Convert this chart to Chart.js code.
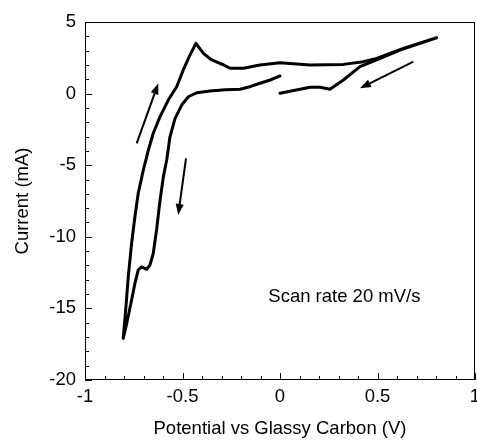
<!DOCTYPE html>
<html>
<head>
<meta charset="utf-8">
<script src="https://cdn.jsdelivr.net/npm/chart.js@4.4.0/dist/chart.umd.min.js"></script>
<style>
  html, body { margin: 0; padding: 0; background: #fff; }
</style>
</head>
<body>
<canvas id="cv" width="477" height="440"></canvas>
<script>
var potential = [0.0, -0.05, -0.103, -0.15, -0.205, -0.28, -0.359, -0.427, -0.47, -0.504, -0.538, -0.564,
  -0.581, -0.598, -0.615, -0.633, -0.65, -0.667, -0.684, -0.71, -0.727, -0.744, -0.761, -0.786, -0.804,
  -0.79, -0.778, -0.761, -0.744, -0.727, -0.701, -0.675, -0.65, -0.615, -0.573, -0.53, -0.496, -0.465, -0.431,
  -0.393, -0.35, -0.29, -0.256, -0.188, -0.103, 0.0, 0.154, 0.325, 0.427, 0.496, 0.632, 0.803,
  0.615, 0.496, 0.41, 0.325, 0.256, 0.205, 0.154, 0.0];
var current = [1.23, 0.95, 0.72, 0.5, 0.3, 0.27, 0.18, 0.06, -0.22, -0.8, -1.73, -3.0,
  -4.64, -5.8, -7.43, -9.52, -11.16, -11.97, -12.27, -12.09, -12.32, -13.25, -14.41, -16.04, -17.09,
  -14.88, -12.78, -10.45, -8.6, -6.96, -5.34, -3.94, -2.77, -1.61, -0.45, 0.48, 1.65, 2.6, 3.51,
  2.81, 2.35, 2.0, 1.77, 1.77, 2.0, 2.16, 2.0, 2.04, 2.23, 2.46, 3.16, 3.9,
  3.04, 2.35, 1.88, 0.95, 0.3, 0.44, 0.44, 0.02];

var xTickLabels = ['-1', '-0.5', '0', '0.5', '1'];
var yTickLabels = ['-20', '-15', '-10', '-5', '0', '5'];

// scan direction arrows (V, mA)
var arrowFrom = [[-0.735, -3.47], [-0.482, -4.52], [0.684, 2.23]];
var arrowTo = [[-0.624, 0.72], [-0.522, -8.48], [0.41, 0.37]];

var note = 'Scan rate 20 mV/s';
var notePos = [-0.06, -14.2];

var points = [];
for (var i = 0; i < potential.length; i++) {
  points.push({ x: potential[i], y: current[i] });
}

var FONT = '"Liberation Sans", Arial, sans-serif';
Chart.defaults.color = '#000';
Chart.defaults.font.family = FONT;
Chart.defaults.font.size = 18.5;

var extras = {
  id: 'extras',
  afterDatasetsDraw: function (chart) {
    var ctx = chart.ctx;
    var xs = chart.scales.x, ys = chart.scales.y;
    var a = chart.chartArea;
    ctx.save();
    ctx.strokeStyle = '#000';
    ctx.lineWidth = 1;
    // frame
    ctx.strokeRect(a.left + 0.5, a.top + 0.5, a.right - a.left - 1, a.bottom - a.top - 1);
    // inward ticks
    ctx.beginPath();
    for (var i = -10; i <= 10; i++) {
      var px = Math.round(xs.getPixelForValue(i / 10)) + 0.5;
      var len = (i % 5 === 0) ? 7 : 4;
      ctx.moveTo(px, a.bottom);
      ctx.lineTo(px, a.bottom - len);
    }
    for (var j = -20; j <= 5; j++) {
      var py = Math.round(ys.getPixelForValue(j)) + 0.5;
      var l2 = (j % 5 === 0) ? 7 : 4;
      ctx.moveTo(a.left, py);
      ctx.lineTo(a.left + l2, py);
    }
    ctx.stroke();

    // arrows
    ctx.fillStyle = '#000';
    ctx.lineWidth = 2;
    for (var k = 0; k < arrowFrom.length; k++) {
      var x0 = xs.getPixelForValue(arrowFrom[k][0]), y0 = ys.getPixelForValue(arrowFrom[k][1]);
      var x1 = xs.getPixelForValue(arrowTo[k][0]), y1 = ys.getPixelForValue(arrowTo[k][1]);
      var ang = Math.atan2(y1 - y0, x1 - x0);
      var hl = 11, hw = 4;
      var bx = x1 - hl * Math.cos(ang), by = y1 - hl * Math.sin(ang);
      ctx.beginPath();
      ctx.moveTo(x0, y0);
      ctx.lineTo(bx, by);
      ctx.stroke();
      ctx.beginPath();
      ctx.moveTo(x1, y1);
      ctx.lineTo(bx + hw * Math.sin(ang), by - hw * Math.cos(ang));
      ctx.lineTo(bx - hw * Math.sin(ang), by + hw * Math.cos(ang));
      ctx.closePath();
      ctx.fill();
    }

    // annotation
    ctx.font = '18.5px ' + FONT;
    ctx.textAlign = 'left';
    ctx.textBaseline = 'middle';
    ctx.fillText(note, xs.getPixelForValue(notePos[0]), ys.getPixelForValue(notePos[1]));
    ctx.restore();
  }
};

new Chart(document.getElementById('cv'), {
  type: 'scatter',
  data: {
    datasets: [{
      data: points,
      showLine: true,
      borderColor: '#000',
      borderWidth: 3,
      pointRadius: 0,
      tension: 0,
      borderJoinStyle: 'round',
      borderCapStyle: 'round'
    }]
  },
  options: {
    responsive: false,
    animation: false,
    layout: { padding: { top: 22, right: 2, left: 0, bottom: 0 } },
    plugins: { legend: { display: false }, tooltip: { enabled: false } },
    scales: {
      x: {
        type: 'linear',
        min: -1, max: 1,
        grid: { display: false, drawTicks: false },
        border: { display: false },
        ticks: {
          stepSize: 0.5,
          padding: 6,
          maxRotation: 0,
          callback: function (v, i) { return xTickLabels[i]; }
        },
        title: { display: true, text: 'Potential vs Glassy Carbon (V)', padding: { top: 0, bottom: 0 } },
        afterFit: function (s) { s.height = 60; s.paddingLeft = 0; s.paddingRight = 0; }
      },
      y: {
        type: 'linear',
        min: -20, max: 5,
        grid: { display: false, drawTicks: false },
        border: { display: false },
        ticks: {
          stepSize: 5,
          padding: 9,
          callback: function (v, i) { return yTickLabels[i]; }
        },
        title: { display: true, text: 'Current (mA)', padding: { top: 12, bottom: 0 } },
        afterFit: function (s) { s.width = 85; s.paddingTop = 0; s.paddingBottom = 0; }
      }
    }
  },
  plugins: [extras]
});
</script>
</body>
</html>
